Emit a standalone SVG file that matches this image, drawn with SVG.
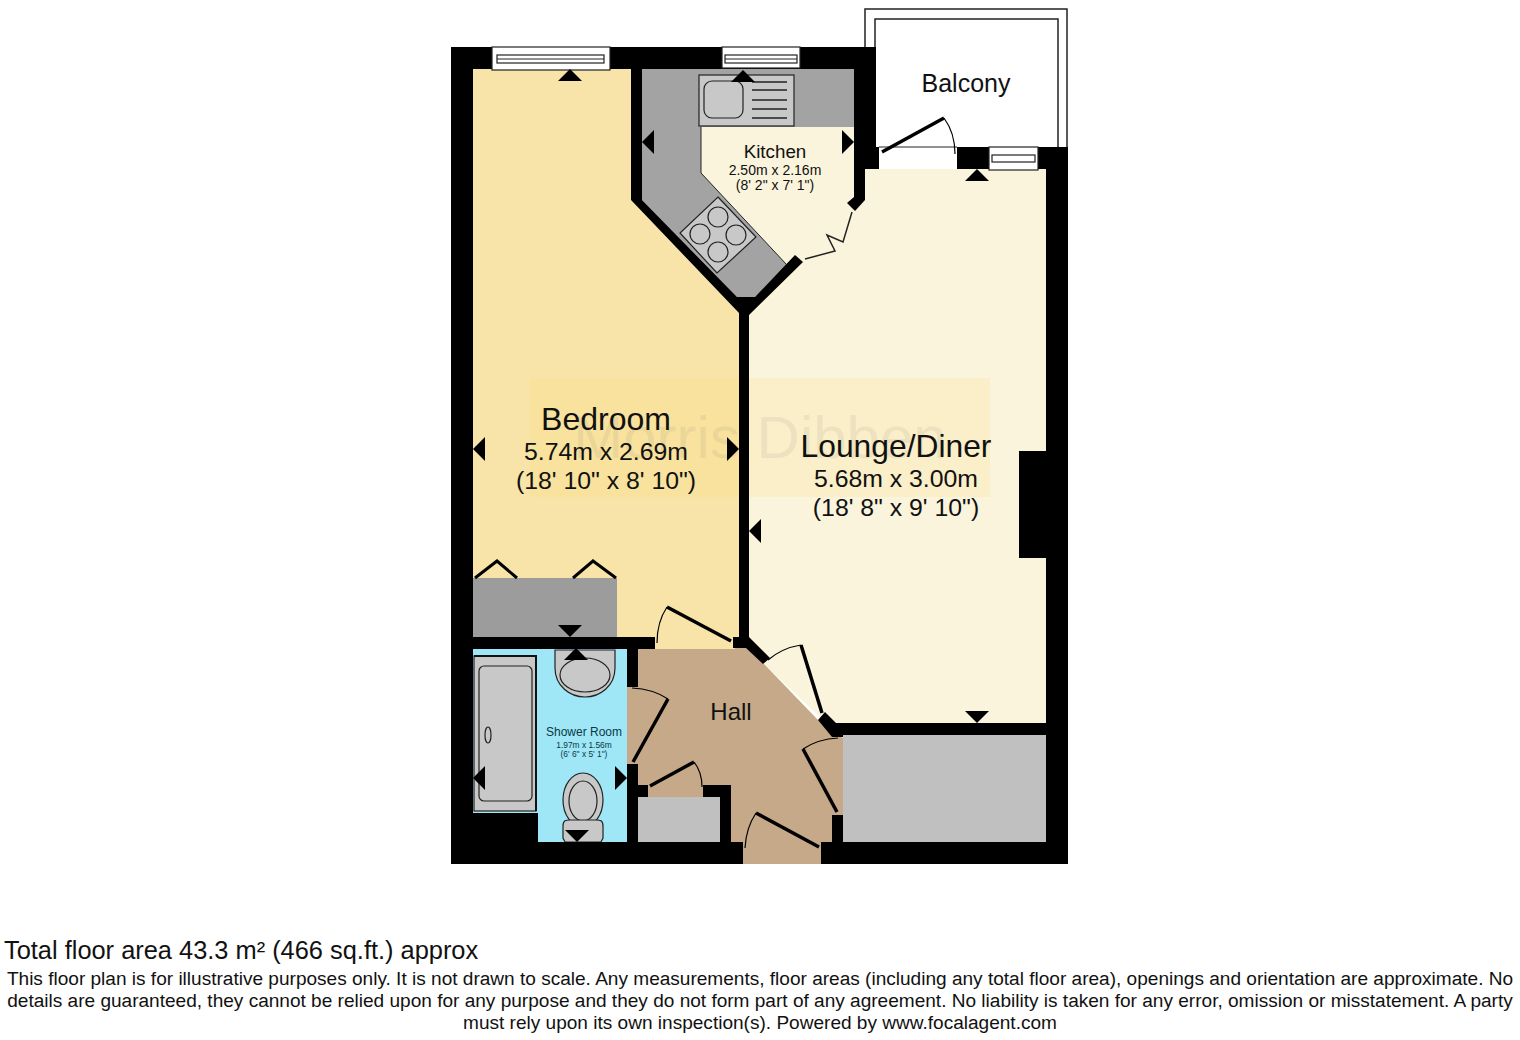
<svg xmlns="http://www.w3.org/2000/svg" width="1520" height="1040" viewBox="0 0 1520 1040">
<style>
text{font-family:"Liberation Sans",Arial,sans-serif;fill:#111;text-anchor:middle}
.w{fill:#000}
.d{fill:none;stroke:#000;stroke-width:3.5}
.a{fill:none;stroke:#000;stroke-width:1.2}
.f{fill:#c8c8c8;stroke:#222;stroke-width:1.2}
.win{fill:#fff;stroke:#222;stroke-width:1.2}
.foot{font-size:19.06px}
</style>
<defs><path id="t" d="M0 0L12 -12H-12Z" fill="#000"/></defs>
<rect width="1520" height="1040" fill="#fff"/>
<g id="balcony">
<path d="M865 147V9H1067V147M875 147V19H1058V147" fill="none" stroke="#222" stroke-width="1.5"/>
<text x="966" y="92" font-size="25">Balcony</text>
</g>
<g id="bedroom"><path d="M473 69H631V200L739 313V640H473Z" fill="#f8e4a8"/></g>
<g id="lounge"><path d="M865 169H1046V723H838L825 722L765 665L745 640V315L790 262L854 200Z" fill="#faf4dc"/></g>
<g id="kitchen">
<path d="M642 69H854V205L790 262L755 297H737L642 200Z" fill="#faf4dc"/>
<path d="M642 69H854V127H701V173L787 265L755 297H737L642 200Z" fill="#a3a3a3"/>
<path d="M701 127V173L787 265" fill="none" stroke="#222" stroke-width="1"/>
<rect class="f" x="699" y="75" width="95" height="51"/>
<rect class="f" x="704" y="81" width="39" height="37" rx="8" stroke-width="1.5"/>
<path d="M752 82H787M752 90H787M752 100H787M752 109H787M752 118H787" stroke="#222" stroke-width="1.5"/>
<path class="f" d="M718 197L756 237L717 273L680 233Z"/>
<g class="f"><circle cx="718" cy="217" r="10"/><circle cx="700" cy="234" r="10"/><circle cx="736" cy="235" r="10"/><circle cx="718" cy="252" r="10"/></g>
<text x="775" y="158" font-size="18.8">Kitchen</text>
<text x="775" y="175" font-size="14">2.50m x 2.16m</text>
<text x="775" y="190" font-size="14">(8' 2" x 7' 1")</text>
</g>
<g id="hall">
<path d="M627 687H638V648H747L765 665L818 720L843 738V842H832L821 864H743V842H731V797H638V764H627Z" fill="#c6a988"/>
<rect x="655" y="636" width="80" height="13" fill="#f8e4a8"/>
</g>
<g id="shower-room">
<rect x="473" y="648" width="154" height="194" fill="#9fe6f7"/>
<rect class="f" x="474" y="656" width="62" height="155"/>
<path d="M474 656H536V811" fill="none" stroke="#111" stroke-width="2"/>
<rect class="f" x="479" y="666" width="53" height="135" rx="5" stroke-width="2"/>
<ellipse class="f" cx="488" cy="735" rx="3" ry="8"/>
<path class="f" d="M555 650H615V668C615 686 600 697 585 697C570 697 555 686 555 668Z"/>
<ellipse class="f" cx="585" cy="675" rx="25" ry="17"/>
<ellipse class="f" cx="583" cy="800" rx="20" ry="27"/>
<ellipse class="f" cx="583" cy="801" rx="14" ry="20"/>
<path class="f" d="M563 826C563 820 566 820 570 820H596C600 820 603 820 603 826V838L601 842H565L563 838Z"/>
<text x="584" y="736" font-size="12" style="fill:#0b3a44">Shower Room</text>
<text x="584" y="748" font-size="8.4" style="fill:#0b3a44">1.97m x 1.56m</text>
<text x="584" y="757" font-size="8.4" style="fill:#0b3a44">(6' 6" x 5' 1")</text>
</g>
<g id="wardrobe">
<rect x="473" y="578" width="144" height="59" fill="#9c9c9c"/>
<path d="M475 578L497 561L517 578M573 578L593 561L616 578" fill="none" stroke="#000" stroke-width="3"/>
</g>
<g id="cupboard"><rect x="638" y="797" width="82" height="45" fill="#c0c0c0"/></g>
<g id="store"><rect x="843" y="735" width="203" height="107" fill="#c0c0c0"/></g>
<g id="watermark">
<rect x="530" y="378" width="460" height="119" fill="#f8dc78" opacity=".2"/>
<text x="760" y="458" font-size="60" style="fill:#777" opacity=".1">Morris Dibben</text>
</g>
<g id="walls">
<path class="w" d="M451 47H876V147H879V169H865V200L855 211L847 203L854 197V69H642V200L737 297H755L795 255L803 262L749 315V637L770 658L763 664L746 648H733V637H739V313L631 200V69H473V637H655V649H638V687H627V649H473V813H538V842H627V764H638V785H648V797H638V842H720V797H703V785H731V842H743V864H451Z"/>
<path class="w" d="M821 864V842H832V815H843V842H1046V735H843V737H832L818 720L825 712L836 723H1046V558H1019V451H1046V169H1038V147H1068V864Z"/>
<rect class="w" x="957" y="147" width="32" height="22"/>
</g>
<g id="windows">
<rect class="win" x="492" y="47" width="118" height="23"/><rect class="win" x="497" y="55" width="107" height="8"/><path d="M497 59H604" stroke="#222" fill="none"/>
<rect class="win" x="722" y="47" width="78" height="21"/><rect class="win" x="725" y="55" width="72" height="8"/><path d="M725 59H797" stroke="#222" fill="none"/>
<rect class="win" x="989" y="147" width="49" height="23"/><rect class="win" x="992" y="155" width="43" height="7"/>
</g>
<g id="connectors">
<path d="M879 147H957" stroke="#222" stroke-width="1" fill="none"/>
<path class="d" d="M882 152L944 118"/><path class="a" d="M944 118Q955 133 955 154"/>
<path d="M805 259L835 251L827 235L843 242L852 212" fill="none" stroke="#222" stroke-width="1.5"/>
<path class="d" d="M731 641L667 607"/><path class="a" d="M667 607Q657 622 657 643"/>
<path class="d" d="M633 762L668 699"/><path class="a" d="M668 699Q653 689 632 688"/>
<path class="d" d="M650 786L694 762"/><path class="a" d="M694 762Q702 772 702 787"/>
<path class="d" d="M822 713L801 645"/><path class="a" d="M801 645Q782 648 768 660"/>
<path class="d" d="M837 812L803 749"/><path class="a" d="M803 749Q818 739 838 738"/>
<path class="d" d="M819 847L756 813"/><path class="a" d="M756 813Q746 828 745 848"/>
<use href="#t" transform="translate(570 69) rotate(180)"/>
<use href="#t" transform="translate(743 70) rotate(180)"/>
<use href="#t" transform="translate(977 169) rotate(180)"/>
<use href="#t" transform="translate(642 142) rotate(90)"/>
<use href="#t" transform="translate(854 142) rotate(-90)"/>
<use href="#t" transform="translate(473 449) rotate(90)"/>
<use href="#t" transform="translate(739 449) rotate(-90)"/>
<use href="#t" transform="translate(749 531) rotate(90)"/>
<use href="#t" transform="translate(977 723)"/>
<use href="#t" transform="translate(570 637)"/>
<use href="#t" transform="translate(576 648) rotate(180)"/>
<use href="#t" transform="translate(577 842)"/>
<use href="#t" transform="translate(473 778) rotate(90)"/>
<use href="#t" transform="translate(627 778) rotate(-90)"/>
</g>
<g id="labels">
<text x="606" y="430" font-size="32">Bedroom</text>
<text x="606" y="460" font-size="24.8">5.74m x 2.69m</text>
<text x="606" y="489" font-size="24.8">(18' 10" x 8' 10")</text>
<text x="896" y="457" font-size="31.8">Lounge/Diner</text>
<text x="896" y="487" font-size="24.8">5.68m x 3.00m</text>
<text x="896" y="516" font-size="24.8">(18' 8" x 9' 10")</text>
<text x="731" y="720" font-size="24">Hall</text>
</g>
<g id="footer">
<text x="4" y="959" font-size="25.4" style="text-anchor:start">Total floor area 43.3 m² (466 sq.ft.) approx</text>
<text class="foot" x="760" y="985">This floor plan is for illustrative purposes only. It is not drawn to scale. Any measurements, floor areas (including any total floor area), openings and orientation are approximate. No</text>
<text class="foot" x="760" y="1007">details are guaranteed, they cannot be relied upon for any purpose and they do not form part of any agreement. No liability is taken for any error, omission or misstatement. A party</text>
<text class="foot" x="760" y="1029">must rely upon its own inspection(s). Powered by www.focalagent.com</text>
</g>
</svg>
